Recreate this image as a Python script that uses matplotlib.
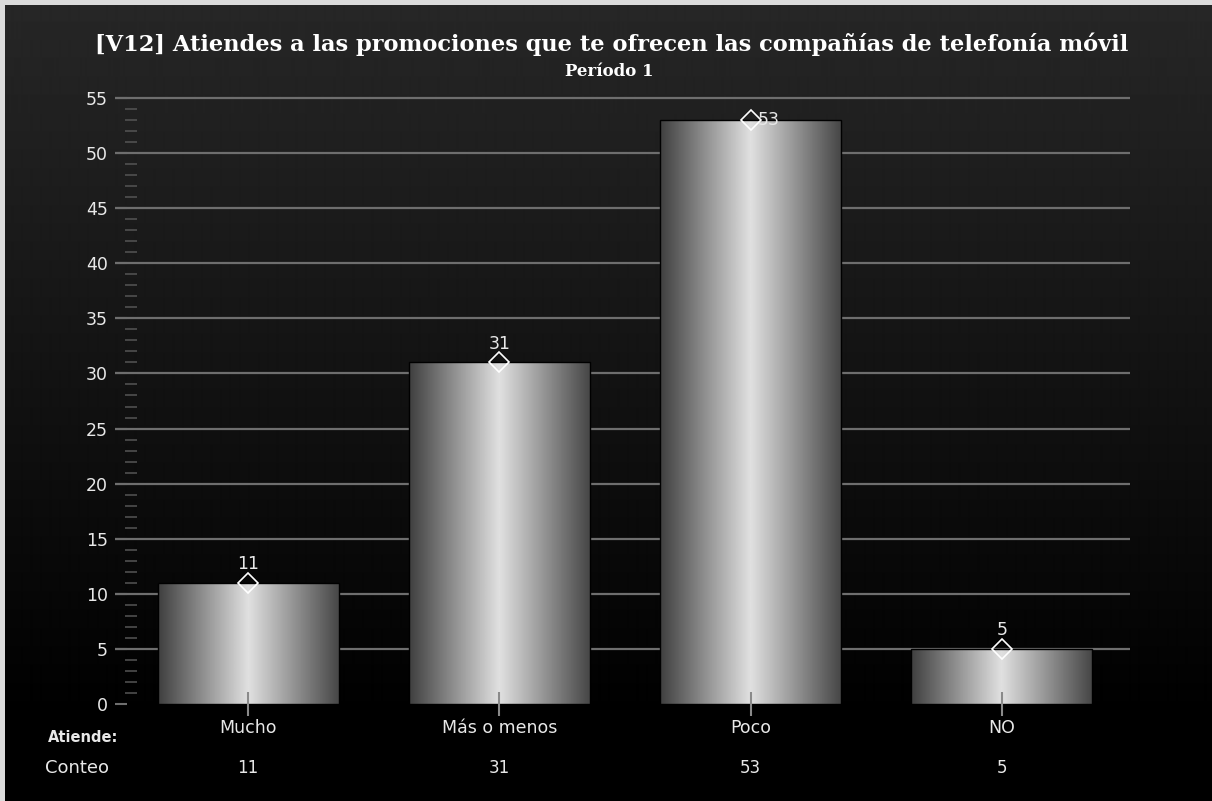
import numpy as np
import matplotlib.pyplot as plt
from matplotlib.patches import Rectangle
from matplotlib import transforms

TITLE = '[V12] Atiendes a las promociones que te ofrecen las compañías de telefonía móvil'
SUBTITLE = 'Período 1'
categories = ['Mucho', 'Más o menos', 'Poco', 'NO']
counts = [11, 31, 53, 5]
y_ticks = list(range(0, 56, 5))
minor_ticks = [v for v in range(1, 55) if v % 5]

W, H = 1212, 801
GRID = '#6e6e6e'
TXT = '#e8e8e8'


def main():
    fig = plt.figure(figsize=(W / 100, H / 100), dpi=100)

    # background: dark grey at the top fading to black
    bg = fig.add_axes([0, 0, 1, 1], zorder=-10)
    rows = np.clip(1 - np.arange(H) / 720, 0, 1) * 0x27 / 255
    bg.imshow(np.repeat(rows[:, None], 2, axis=1), cmap='gray', vmin=0, vmax=1,
              aspect='auto', extent=[0, 1, 0, 1], interpolation='bilinear')
    bg.add_patch(Rectangle((0, 1 - 5 / H), 1, 5 / H, color='#dcdcdc', lw=0))
    bg.add_patch(Rectangle((0, 0), 5 / W, 1, color='#dcdcdc', lw=0))
    bg.set_xlim(0, 1)
    bg.set_ylim(0, 1)
    bg.axis('off')

    ax = fig.add_axes([115 / W, 1 - 704 / H, 1015 / W, 606 / H])
    ax.set_facecolor('none')
    for s in ax.spines.values():
        s.set_visible(False)

    x = np.arange(len(categories))
    bars = ax.bar(x, counts, width=0.72, color='none', edgecolor='black',
                  linewidth=1, zorder=2)
    shade = np.interp(np.linspace(0, 1, 200), [0, 0.5, 1], [0.25, 0.88, 0.28])
    for b in bars:
        im = ax.imshow(shade[None, :], cmap='gray', vmin=0, vmax=1, aspect='auto',
                       extent=[b.get_x(), b.get_x() + b.get_width(), 0, b.get_height()],
                       zorder=1.8, interpolation='bilinear')
        im.set_clip_path(b)

    ygrid = ax.get_yaxis_transform()
    ax.hlines(y_ticks[1:], 0, 1, transform=ygrid, color=GRID, lw=1.6, zorder=1,
              clip_on=False)
    ax.hlines(minor_ticks, 10 / 1015, 22 / 1015, transform=ygrid, color='#555555',
              lw=1.1, zorder=1)

    ax.set_xlim(-0.53, 3.51)
    ax.set_ylim(0, 55)
    ax.set_yticks(y_ticks)
    ax.set_xticks(x, categories)
    ax.set_axisbelow(False)
    ax.tick_params(axis='y', direction='in', length=8.6, width=1.5, color=GRID,
                   labelcolor=TXT, labelsize=12.5, pad=5)
    ax.tick_params(axis='x', direction='inout', length=17, width=1.5, color='#8a8a8a',
                   labelcolor=TXT, labelsize=12.5, pad=2)

    for i, v in zip(x, counts):
        ax.plot(i, v, marker='D', mfc='none', mec='white', ms=10, mew=1.2,
                zorder=5, clip_on=False)
        if v > 0.9 * ax.get_ylim()[1]:
            ax.annotate(str(v), (i, v), xytext=(5, 0), textcoords='offset points',
                        ha='left', va='center', color=TXT, fontsize=12.5, zorder=6)
        else:
            ax.annotate(str(v), (i, v), xytext=(0, 7), textcoords='offset points',
                        ha='center', va='bottom', color=TXT, fontsize=12.5, zorder=6)

    # table row under the axis
    row = transforms.blended_transform_factory(ax.transData, fig.transFigure)
    for i, v in zip(x, counts):
        ax.text(i, 1 - 768 / H, str(v), transform=row, ha='center', va='center',
                color=TXT, fontsize=12)
    fig.text(83 / W, 1 - 737 / H, 'Atiende:', ha='center', va='center',
             color=TXT, fontsize=10.5, fontweight='bold')
    fig.text(77 / W, 1 - 768 / H, 'Conteo', ha='center', va='center',
             color=TXT, fontsize=13)

    fig.text(0.5045, 1 - 44 / H, TITLE, ha='center', va='center', color='white',
             family='DejaVu Serif', fontweight='heavy', fontsize=16.2)
    fig.text(0.503, 1 - 72 / H, SUBTITLE, ha='center', va='center', color='white',
             family='DejaVu Serif', fontweight='bold', fontsize=12)

    fig.savefig('out.png', dpi=100)


if __name__ == '__main__':
    main()
